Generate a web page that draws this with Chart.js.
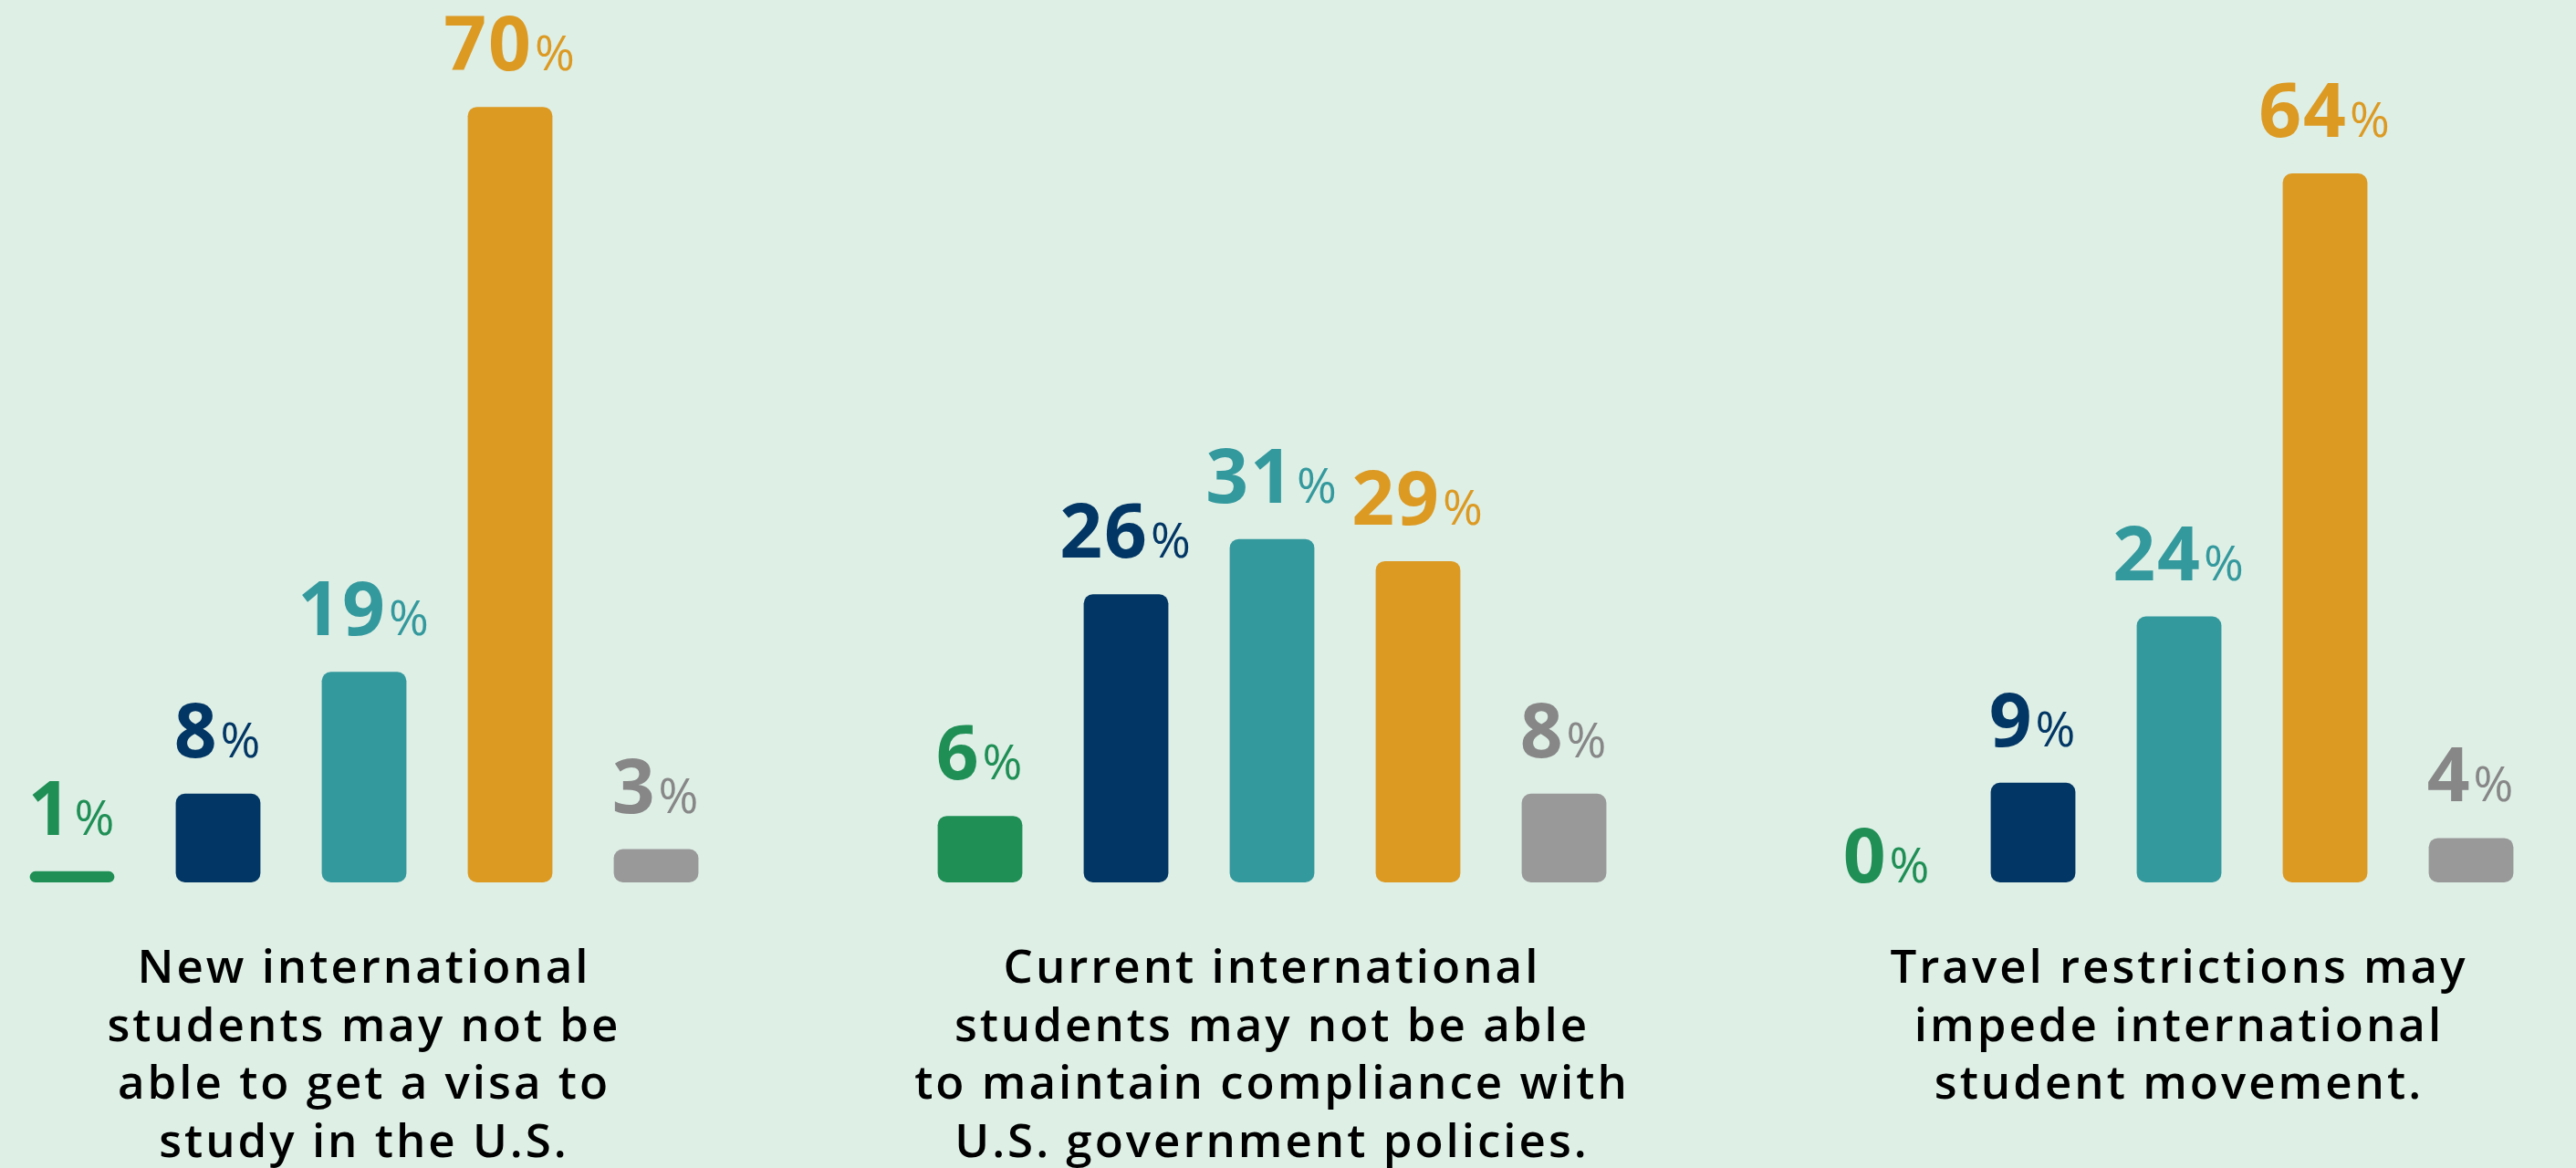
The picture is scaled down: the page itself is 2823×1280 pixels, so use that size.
<!doctype html>
<html>
<head>
  <meta charset="utf-8" />
  <title>International student concerns</title>
  <style>
    html, body { margin: 0; padding: 0; }
    body { width: 2823px; height: 1280px; background: #deefe6; overflow: hidden; position: relative;
           font-family: "Open Sans", Arial, sans-serif; }
    .group { position: absolute; top: 0; width: 800px; height: 980px; }
    .group canvas { width: 800px !important; height: 980px !important; }
    .question { position: absolute; top: 1026px; width: 800px; text-align: center;
                font-size: 51px; font-weight: 600; line-height: 63.5px; color: #000; letter-spacing: 3px; }
  </style>
</head>
<body>
  <div class="group" id="g0" style="left:-1px"><canvas id="c0"></canvas></div>
  <div class="group" id="g1" style="left:994px"><canvas id="c1"></canvas></div>
  <div class="group" id="g2" style="left:1988px"><canvas id="c2"></canvas></div>
  <div class="question" id="q0" style="left:-1px"></div>
  <div class="question" id="q1" style="left:994px"></div>
  <div class="question" id="q2" style="left:1988px"></div>

  <script src="https://cdn.jsdelivr.net/npm/chart.js@4.4.1/dist/chart.umd.min.js"></script>
  <script>
    // response options (colour order in every group)
    const responses = ['Response A', 'Response B', 'Response C', 'Response D', 'Response E'];
    const barColors = ['#1f8f55', '#023664', '#34999d', '#dc9a23', '#999999'];
    const labelColors = ['#1f8f55', '#023664', '#34999d', '#dc9a23', '#878787'];

    // percent values per statement
    const newStudents = [1, 8, 19, 70, 3];
    const currentStudents = [6, 26, 31, 29, 8];
    const travelRestrictions = [0, 9, 24, 64, 4];

    const questionLines = [
      ['New international', 'students may not be', 'able to get a visa to', 'study in the U.S.'],
      ['Current international', 'students may not be able', 'to maintain compliance with', 'U.S. government policies.'],
      ['Travel restrictions may', 'impede international', 'student movement.']
    ];
    const series = [newStudents, currentStudents, travelRestrictions];

    // draws "70%" style labels: big number, smaller percent sign
    const pctLabels = {
      id: 'pctLabels',
      afterDatasetsDraw(chart) {
        const ctx = chart.ctx;
        const meta = chart.getDatasetMeta(0);
        const data = chart.data.datasets[0].data;
        meta.data.forEach((bar, i) => {
          const v = data[i];
          const num = String(v);
          ctx.save();
          ctx.letterSpacing = '2px';
          ctx.font = '700 82px "Open Sans"';
          const wNum = ctx.measureText(num).width;
          ctx.font = '500 53px "Open Sans"';
          const wPct = ctx.measureText('%').width;
          const gap = 2;
          const total = wNum + gap + wPct;
          const x0 = bar.x - total / 2;
          const y = v > 0 ? bar.y - 40 : bar.base;
          ctx.fillStyle = labelColors[i];
          ctx.textBaseline = 'alphabetic';
          ctx.textAlign = 'left';
          ctx.font = '700 82px "Open Sans"';
          ctx.fillText(num, x0, y);
          ctx.font = '500 53px "Open Sans"';
          ctx.fillText('%', x0 + wNum + gap, y);
          ctx.restore();
        });
      }
    };

    function buildChart(idx) {
      const ctx = document.getElementById('c' + idx).getContext('2d');
      return new Chart(ctx, {
        type: 'bar',
        data: {
          labels: responses,
          datasets: [{
            data: series[idx],
            backgroundColor: barColors,
            borderRadius: 10,
            borderSkipped: false,
            categoryPercentage: 1,
            barPercentage: 0.58
          }]
        },
        options: {
          animation: false,
          responsive: false,
          maintainAspectRatio: false,
          layout: { padding: { top: 20, bottom: 13, left: 0, right: 0 } },
          plugins: { legend: { display: false }, tooltip: { enabled: false } },
          scales: {
            x: { display: false },
            y: { display: false, min: 0, max: 78 }
          }
        },
        plugins: [pctLabels]
      });
    }

    document.fonts.load('700 82px "Open Sans"').then(() => document.fonts.load('500 53px "Open Sans"')).finally(() => {
      for (let i = 0; i < 3; i++) {
        const cv = document.getElementById('c' + i);
        cv.width = 800; cv.height = 980;
        buildChart(i);
        document.getElementById('q' + i).innerHTML = questionLines[i].join('<br>');
      }
    });
  </script>
</body>
</html>
